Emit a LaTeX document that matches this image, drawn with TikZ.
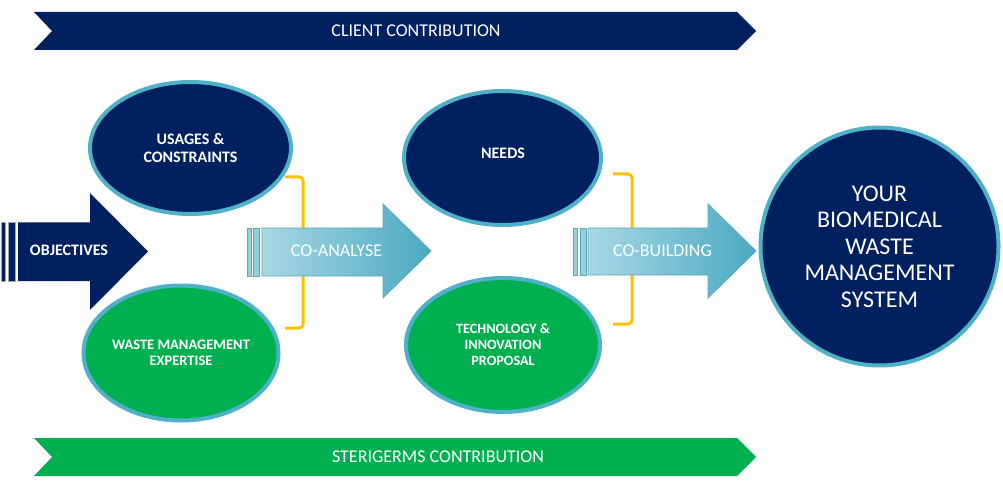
\documentclass[tikz,border=0pt]{standalone}
\usepackage{fontspec}
\setmainfont{Carlito}
\usetikzlibrary{shapes.geometric}
\definecolor{navy}{HTML}{002060}
\definecolor{sgreen}{HTML}{00B050}
\definecolor{rim}{HTML}{4FB1C8}
\definecolor{gold}{HTML}{FFC000}
\definecolor{alight}{HTML}{A8D8E5}
\definecolor{adark}{HTML}{4AA9C2}
\definecolor{aline}{HTML}{5FA8BC}
\tikzset{
  bubble/.style={ellipse, draw=rim, line width=4pt, inner sep=0pt, text=white, align=center},
  banner/.style={fill=#1},
  bannertext/.style={text=white, font=\fontsize{18}{21}\selectfont},
  arrowtext/.style={text=white, font=\fontsize{18}{21}\selectfont},
  bracket/.style={draw=gold, line width=3pt, rounded corners=4pt},
  flowarrow/.style={left color=alight, right color=adark, draw=aline, line width=0.8pt},
  stripe/.style={fill=alight!80!adark, draw=aline, line width=0.8pt},
  navystripe/.style={fill=navy, draw=navy!40!white, line width=0.6pt}
}
\begin{document}
\begin{tikzpicture}[x=1pt,y=-1pt]
\useasboundingbox (0,0) rectangle (1003,486);
\fill[white] (0,0) rectangle (1003,486);

% banners
\fill[banner=navy] (34,12) -- (737,12) -- (756,31) -- (737,50) -- (34,50) -- (52,31) -- cycle;
\node[bannertext] (client) at (416,31) {CLIENT CONTRIBUTION};
\fill[banner=sgreen] (34,438) -- (737,438) -- (756,457) -- (737,476) -- (34,476) -- (52,457) -- cycle;
\node[bannertext] (steri) at (438,457) {STERIGERMS CONTRIBUTION};

% brackets
\draw[bracket] (285,177) -- (303,177) -- (303,328) -- (285,328);
\draw[bracket] (613,174) -- (632,174) -- (632,324) -- (613,324);

% ellipses
\node[bubble, fill=navy, minimum width=201pt, minimum height=132pt,
      font=\bfseries\fontsize{16}{17.5}\selectfont] (usages) at (190.5,148)
      {USAGES \&\\CONSTRAINTS};
\node[bubble, fill=sgreen, minimum width=194pt, minimum height=135pt,
      font=\bfseries\fontsize{14.5}{16}\selectfont] (waste) at (181,353)
      {WASTE MANAGEMENT\\EXPERTISE};
\node[bubble, fill=navy, minimum width=197pt, minimum height=134pt] (needs) at (502.5,158) {};
\node[text=white, font=\bfseries\fontsize{16}{18}\selectfont] (needstext) at (503,153) {NEEDS};
\node[bubble, fill=sgreen, minimum width=194pt, minimum height=134pt,
      font=\bfseries\fontsize{14.2}{16}\selectfont] (tech) at (503,345)
      {TECHNOLOGY \&\\INNOVATION\\PROPOSAL};
\node[bubble, circle, fill=navy, minimum size=238pt,
      font=\fontsize{24}{26.5}\selectfont] (system) at (879.5,246.5)
      {YOUR\\BIOMEDICAL\\WASTE\\MANAGEMENT\\SYSTEM};

% objectives arrow
\fill[navystripe] (1,222.5) rectangle (5,281);
\fill[navystripe] (8,222.5) rectangle (15,281);
\fill[navy] (18,222.5) -- (90,222.5) -- (90,193) -- (148,251.5) -- (90,310) -- (90,281) -- (18,281) -- cycle;
\node[text=white, font=\bfseries\fontsize{16}{18}\selectfont] (obj) at (69,250) {OBJECTIVES};

% co-analyse arrow
\filldraw[stripe] (247,228) rectangle (251,276);
\filldraw[stripe] (253,228) rectangle (259,276);
\shade[flowarrow] (262,228) -- (383,228) -- (383,204) -- (431,251) -- (383,298) -- (383,276) -- (262,276) -- cycle;
\node[arrowtext] (coan) at (336.5,251) {CO-ANALYSE};

% co-building arrow
\filldraw[stripe] (573,228) rectangle (577,275);
\filldraw[stripe] (580,228) rectangle (586,275);
\shade[flowarrow] (588,228) -- (708,228) -- (708,204) -- (756,251) -- (708,298) -- (708,275) -- (588,275) -- cycle;
\node[arrowtext] (cobu) at (662.5,251) {CO-BUILDING};
\end{tikzpicture}
\end{document}
